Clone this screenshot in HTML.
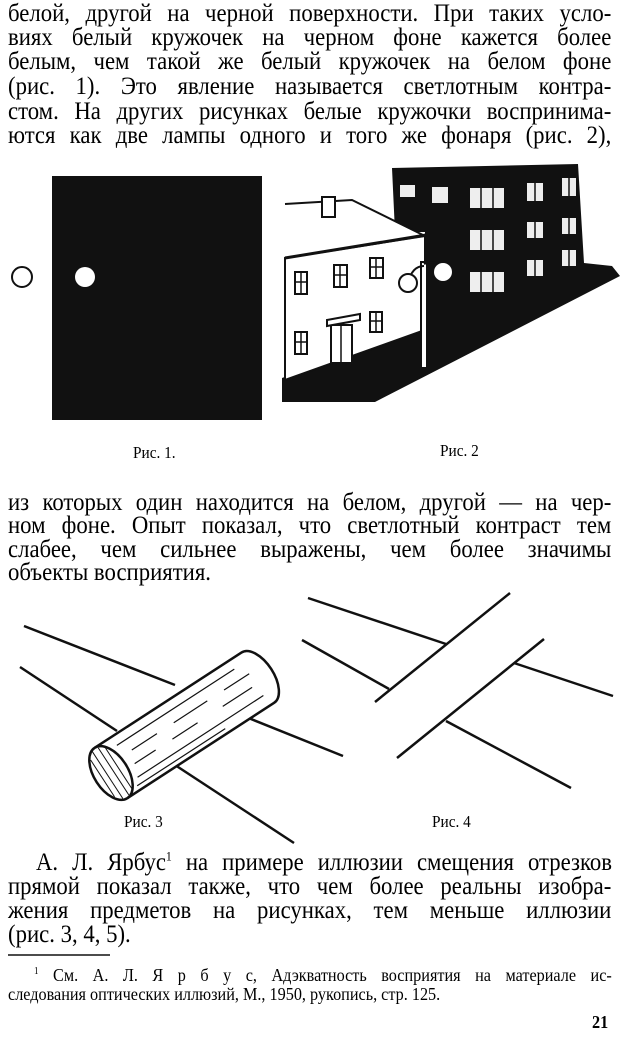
<!DOCTYPE html>
<html><head><meta charset="utf-8"><style>
html,body{margin:0;padding:0;background:#fff;}
body{width:620px;height:1040px;position:relative;overflow:hidden;font-family:"Liberation Serif","Noto Serif CJK SC",serif;color:#000;}
.l{position:absolute;left:8px;width:663px;font-size:25px;line-height:24px;white-space:nowrap;text-align:justify;text-align-last:justify;transform:scaleX(0.91);transform-origin:0 0;}
.c{position:absolute;font-size:17px;line-height:18px;white-space:nowrap;transform:scaleX(0.9);transform-origin:0 0;}
.f{position:absolute;left:8px;width:671px;font-size:18px;line-height:18px;white-space:nowrap;text-align:justify;text-align-last:justify;transform:scaleX(0.9);transform-origin:0 0;}
svg{position:absolute;left:0;top:0;}
</style></head><body>
<div class="l" style="top:2px">белой, другой на черной поверхности. При таких усло-</div>
<div class="l" style="top:26px">виях белый кружочек на черном фоне кажется более</div>
<div class="l" style="top:50px">белым, чем такой же белый кружочек на белом фоне</div>
<div class="l" style="top:75px">(рис. 1). Это явление называется светлотным контра-</div>
<div class="l" style="top:100px">стом. На других рисунках белые кружочки воспринима-</div>
<div class="l" style="top:124px">ются как две лампы одного и того же фонаря (рис. 2),</div>

<svg width="620" height="1040" viewBox="0 0 620 1040">
<rect x="52" y="176" width="210" height="244" fill="#111"/>
<circle cx="85" cy="277" r="10" fill="#fff"/>
<circle cx="22" cy="277" r="10" fill="none" stroke="#111" stroke-width="2"/>
<polygon points="392,168 578,164 584,263 612,266 620,276 375,402 282,402 282,378 420,328 425,232 395,232" fill="#111"/>
<polygon points="285,258 425,236 425,330 285,380" fill="#fff" stroke="#111" stroke-width="2"/>
<polygon points="285,204 352,200 425,236 285,258" fill="#fff"/>
<polyline points="285,204 352,200 425,236" fill="none" stroke="#111" stroke-width="2"/>
<line x1="285" y1="258" x2="426" y2="235" stroke="#111" stroke-width="3"/>
<rect x="322" y="197" width="13" height="20" fill="#fff" stroke="#111" stroke-width="2"/>
<g fill="#fff" stroke="#111" stroke-width="2">
<rect x="295" y="272" width="12" height="22"/><rect x="334" y="265" width="13" height="22"/><rect x="370" y="258" width="13" height="20"/>
<rect x="295" y="332" width="12" height="22"/><rect x="370" y="312" width="12" height="20"/>
<rect x="331" y="325" width="21" height="38"/>
<polygon points="327,320 360,314 360,320 327,326"/>
<rect x="421" y="262" width="6" height="106"/>
</g>
<g stroke="#111" stroke-width="1.5">
<line x1="301" y1="272" x2="301" y2="294"/><line x1="295" y1="282" x2="307" y2="282"/>
<line x1="340" y1="265" x2="340" y2="287"/><line x1="334" y1="275" x2="347" y2="275"/>
<line x1="376" y1="258" x2="376" y2="278"/><line x1="370" y1="267" x2="383" y2="267"/>
<line x1="301" y1="332" x2="301" y2="354"/><line x1="295" y1="342" x2="307" y2="342"/>
<line x1="376" y1="312" x2="376" y2="332"/><line x1="370" y1="321" x2="382" y2="321"/>
<line x1="341" y1="325" x2="341" y2="363"/>
</g>
<path d="M408,283 Q412,266 424,266 M424,264 Q432,260 440,265" fill="none" stroke="#111" stroke-width="2"/>
<circle cx="408" cy="283" r="9" fill="#fff" stroke="#111" stroke-width="2"/>
<circle cx="443" cy="272" r="9" fill="#fff"/>
<g fill="#eee">
<rect x="400" y="185" width="15" height="12"/><rect x="432" y="187" width="16" height="16"/><rect x="470" y="188" width="34" height="20"/><rect x="527" y="183" width="16" height="18"/><rect x="562" y="178" width="14" height="18"/>
<rect x="470" y="230" width="34" height="20"/><rect x="527" y="222" width="16" height="16"/><rect x="562" y="218" width="14" height="16"/>
<rect x="470" y="272" width="34" height="20"/><rect x="527" y="260" width="16" height="16"/><rect x="562" y="250" width="14" height="16"/>
</g>
<g stroke="#111" stroke-width="1.5">
<line x1="481" y1="188" x2="481" y2="208"/><line x1="493" y1="188" x2="493" y2="208"/>
<line x1="481" y1="230" x2="481" y2="250"/><line x1="493" y1="230" x2="493" y2="250"/>
<line x1="481" y1="272" x2="481" y2="292"/><line x1="493" y1="272" x2="493" y2="292"/>
<line x1="535" y1="183" x2="535" y2="201"/><line x1="535" y1="222" x2="535" y2="238"/><line x1="535" y1="260" x2="535" y2="276"/>
<line x1="569" y1="178" x2="569" y2="196"/><line x1="569" y1="218" x2="569" y2="234"/><line x1="569" y1="250" x2="569" y2="266"/>
</g>
<g stroke="#111" stroke-width="2.5" fill="none">
<line x1="24" y1="626" x2="175" y2="685"/><line x1="246" y1="717" x2="343" y2="756"/>
<line x1="20" y1="667" x2="117" y2="731"/><line x1="175" y1="765" x2="294" y2="843"/>
</g>
<g transform="translate(111,773) rotate(-33)">
<path d="M0,-30 L175,-30 A16,30 0 0 1 175,30 L0,30" fill="#fff" stroke="#111" stroke-width="2.5"/>
<g stroke="#111" stroke-width="1.2">
<line x1="20" y1="-20" x2="160" y2="-20"/><line x1="30" y1="-8" x2="60" y2="-8"/><line x1="80" y1="-8" x2="120" y2="-8"/><line x1="140" y1="-8" x2="170" y2="-8"/>
<line x1="25" y1="5" x2="50" y2="5"/><line x1="70" y1="5" x2="100" y2="5"/><line x1="130" y1="5" x2="165" y2="5"/>
<line x1="20" y1="18" x2="170" y2="18"/><line x1="15" y1="25" x2="120" y2="25"/>
</g>
<ellipse cx="0" cy="0" rx="17" ry="30" fill="#fff" stroke="#111" stroke-width="2.5"/>
<g stroke="#111" stroke-width="1"><line x1="-10" y1="-22" x2="-10" y2="22"/><line x1="-4" y1="-28" x2="-4" y2="28"/><line x1="3" y1="-28" x2="3" y2="28"/><line x1="9" y1="-24" x2="9" y2="24"/></g>
</g>
<g stroke="#111" stroke-width="2.5" fill="none">
<line x1="308" y1="598" x2="446" y2="644"/><line x1="375" y1="702" x2="510" y2="593"/>
<line x1="302" y1="640" x2="389" y2="689"/><line x1="397" y1="758" x2="544" y2="639"/>
<line x1="514" y1="663" x2="613" y2="696"/><line x1="446" y1="721" x2="571" y2="788"/>
</g>
<line x1="8" y1="955" x2="110" y2="955" stroke="#111" stroke-width="1.5"/>
</svg>

<div class="c" style="left:133px;top:444px">Рис. 1.</div>
<div class="c" style="left:440px;top:442px">Рис. 2</div>

<div class="l" style="top:491px">из которых один находится на белом, другой — на чер-</div>
<div class="l" style="top:514px">ном фоне. Опыт показал, что светлотный контраст тем</div>
<div class="l" style="top:538px">слабее, чем сильнее выражены, чем более значимы</div>
<div class="l" style="top:561px;width:auto;text-align-last:left">объекты восприятия.</div>

<div class="c" style="left:124px;top:813px">Рис. 3</div>
<div class="c" style="left:432px;top:813px">Рис. 4</div>

<div class="l" style="top:851px;left:36px;width:633px">А. Л. Ярбус<sup style="font-size:13px;line-height:0">1</sup> на примере иллюзии смещения отрезков</div>
<div class="l" style="top:875px">прямой показал также, что чем более реальны изобра-</div>
<div class="l" style="top:899px">жения предметов на рисунках, тем меньше иллюзии</div>
<div class="l" style="top:923px;width:auto;text-align-last:left">(рис. 3, 4, 5).</div>

<div class="f" style="top:966px;left:34px;width:642px"><sup style="font-size:10px;line-height:0">1</sup> См. А. Л. Я р б у с, Адэкватность восприятия на материале ис-</div>
<div class="f" style="top:985px;width:auto;text-align-last:left">следования оптических иллюзий, М., 1950, рукопись, стр. 125.</div>
<div class="c" style="left:592px;top:1013px;font-weight:bold;font-size:18px">21</div>
</body></html>
